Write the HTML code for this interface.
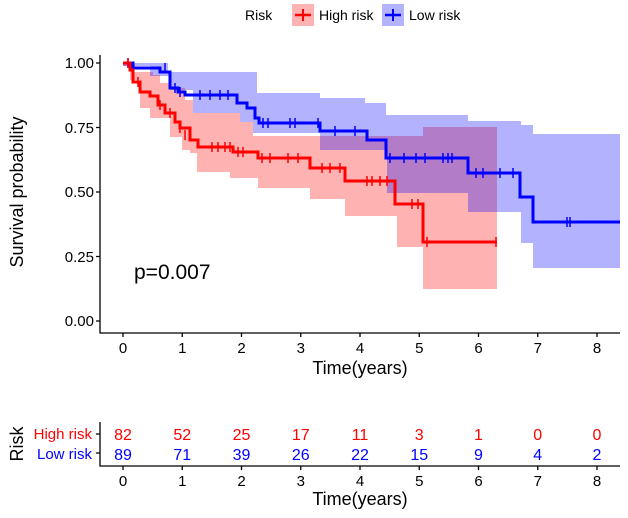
<!DOCTYPE html>
<html><head><style>body{margin:0;background:#fff}svg{display:block;font-family:"Liberation Sans",sans-serif}</style></head><body>
<svg width="628" height="518" viewBox="0 0 628 518" xmlns="http://www.w3.org/2000/svg">
<!-- legend -->
<text x="245" y="20" font-size="14">Risk</text>
<rect x="292" y="4" width="22" height="22" fill="#ffb3b3"/>
<line x1="295" y1="15" x2="311" y2="15" stroke="#f00" stroke-width="2.5"/><line x1="303" y1="9" x2="303" y2="21" stroke="#f00" stroke-width="2"/>
<text x="319" y="20" font-size="14">High risk</text>
<rect x="382" y="4" width="22" height="22" fill="#b3b3ff"/>
<line x1="385" y1="15" x2="401" y2="15" stroke="#00f" stroke-width="2.5"/><line x1="393" y1="9" x2="393" y2="21" stroke="#00f" stroke-width="2"/>
<text x="409" y="20" font-size="14">Low risk</text>

<!-- bands -->
<path d="M123,63 H133 V72 H153 V75 H160 V83 H170 V88 H185 V100 H193 V113 H240 V122 H253 V136 H423 V127 H497 V289 H423 V247 H397 V216 H345 V199 H310 V188 H258 V178 H230 V172 H197 V153 H190 V150 H182 V137 H170 V118 H150 V108 H140 V80 H130 V66 H123 Z" fill="#ff0000" fill-opacity="0.3"/>
<path d="M123,63 H168 V72 H257 V93 H320 V98 H365 V103 H386 V115 H468 V121 H521 V125 H533 V134 H620 V268 H533 V243 H521 V212 H468 V193 H387 V150 H320 V133 H253 V122 H240 V113 H193 V90 H170 V76 H150 V66 H123 Z" fill="#0000ff" fill-opacity="0.3"/>

<!-- curves -->
<path d="M123,63 H133 V68 H160 V72 H170 V88 H178 V92 H185 V95 H237 V103 H247 V108 H255 V118 H259 V123 H320 V131 H367 V140 H386 V158 H468 V173 H520 V197 H533 V222 H620" fill="none" stroke="#00f" stroke-width="3"/>
<path d="M123,63 H130 V70 H133 V82 H140 V92 H150 V96 H158 V105 H165 V113 H175 V122 H180 V128 H190 V140 H198 V147 H233 V152 H258 V158 H310 V168 H345 V181 H395 V204 H423 V242 H497" fill="none" stroke="#f00" stroke-width="3"/>
<g stroke="#00f" stroke-width="1.5">
<path d="M128,58v10M165,63v10M175,83v10M180,87v10M200,90v10M210,90v10M220,90v10M228,90v10M263,118v10M268,118v10M290,118v10M295,118v10M318,118v10M335,126v10M355,126v10M390,153v10M404,153v10M416,153v10M425,153v10M443,153v10M448,153v10M452,153v10M476,168v10M483,168v10M500,168v10M513,168v10M567,217v10M570,217v10"/>
</g>
<g stroke="#f00" stroke-width="1.5">
<path d="M128,58v10M138,77v10M160,100v10M170,108v10M180,123v10M185,130v10M212,142v10M218,142v10M225,142v10M230,142v10M238,147v10M243,147v10M262,153v10M270,153v10M288,153v10M298,153v10M322,163v10M330,163v10M340,163v10M367,176v10M372,176v10M380,176v10M387,176v10M412,199v10M418,199v10M427,237v10M496,237v10"/>
</g>
<text x="134" y="279" font-size="21">p=0.007</text>

<!-- axes -->
<g stroke="#000" stroke-width="1.3" fill="none">
<path d="M100,55 V333 H620"/>
<path d="M96,63H100M96,127.5H100M96,192H100M96,256.5H100M96,321H100"/>
<path d="M123,333v4M182.25,333v4M241.5,333v4M300.75,333v4M360,333v4M419.25,333v4M478.5,333v4M537.75,333v4M597,333v4"/>
<path d="M100,422 V466 H620"/>
<path d="M96,434H100M96,453H100"/>
<path d="M123,466v4M182.25,466v4M241.5,466v4M300.75,466v4M360,466v4M419.25,466v4M478.5,466v4M537.75,466v4M597,466v4"/>
</g>
<g font-size="15" text-anchor="end">
<text x="94" y="68">1.00</text><text x="94" y="133">0.75</text><text x="94" y="197">0.50</text><text x="94" y="262">0.25</text><text x="94" y="326">0.00</text>
</g>
<g font-size="15" text-anchor="middle">
<text x="123" y="353">0</text><text x="182.25" y="353">1</text><text x="241.5" y="353">2</text><text x="300.75" y="353">3</text><text x="360" y="353">4</text><text x="419.25" y="353">5</text><text x="478.5" y="353">6</text><text x="537.75" y="353">7</text><text x="597" y="353">8</text>
<text x="123" y="486">0</text><text x="182.25" y="486">1</text><text x="241.5" y="486">2</text><text x="300.75" y="486">3</text><text x="360" y="486">4</text><text x="419.25" y="486">5</text><text x="478.5" y="486">6</text><text x="537.75" y="486">7</text><text x="597" y="486">8</text>
</g>
<text x="360" y="374" font-size="18" text-anchor="middle">Time(years)</text>
<text x="360" y="505" font-size="18" text-anchor="middle">Time(years)</text>
<text transform="translate(23,192) rotate(-90)" font-size="18" text-anchor="middle">Survival probability</text>
<text transform="translate(23,444) rotate(-90)" font-size="18" text-anchor="middle">Risk</text>
<g font-size="15" text-anchor="end">
<text x="92" y="439" fill="#f00">High risk</text>
<text x="92" y="459" fill="#00f">Low risk</text>
</g>
<g font-size="16" text-anchor="middle" fill="#f00">
<text x="123" y="440">82</text><text x="182.25" y="440">52</text><text x="241.5" y="440">25</text><text x="300.75" y="440">17</text><text x="360" y="440">11</text><text x="419.25" y="440">3</text><text x="478.5" y="440">1</text><text x="537.75" y="440">0</text><text x="597" y="440">0</text>
</g>
<g font-size="16" text-anchor="middle" fill="#00f">
<text x="123" y="460">89</text><text x="182.25" y="460">71</text><text x="241.5" y="460">39</text><text x="300.75" y="460">26</text><text x="360" y="460">22</text><text x="419.25" y="460">15</text><text x="478.5" y="460">9</text><text x="537.75" y="460">4</text><text x="597" y="460">2</text>
</g>
</svg>
</body></html>
